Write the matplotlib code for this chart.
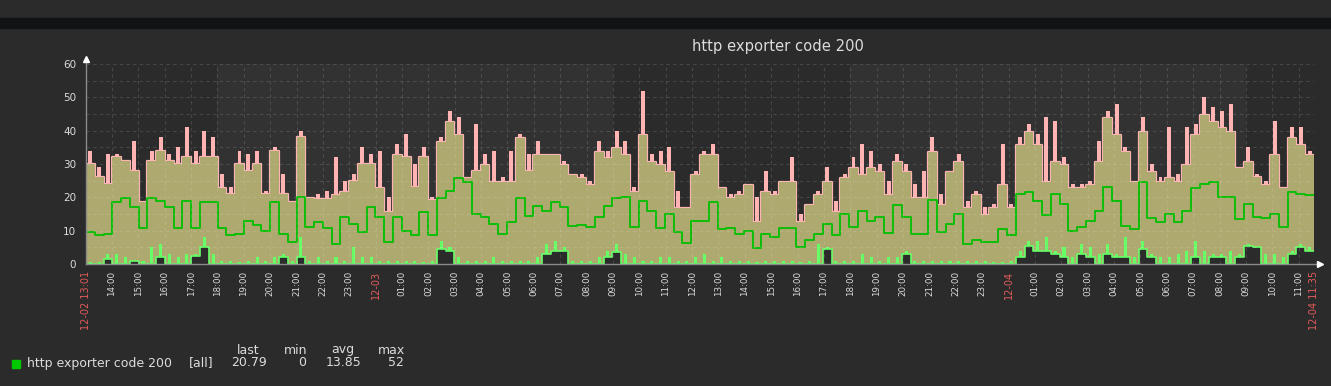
import matplotlib
matplotlib.use("Agg")
import matplotlib.pyplot as plt
import matplotlib.transforms as mtransforms
from matplotlib.patches import Rectangle
import numpy as np

# 20-minute samples from 12-02 13:01 to 12-04 11:35
peak = [34, 29, 33, 33, 31, 37, 19, 34, 38, 33, 35, 41, 34, 40, 38, 27, 23, 34, 33, 34, 22, 35, 27,
        19, 40, 20, 21, 22, 32, 25, 27, 35, 33, 34, 20, 36, 39, 30, 35, 20, 38, 46, 44, 26, 42, 33,
        34, 26, 34, 39, 33, 37, 33, 33, 31, 27, 27, 25, 37, 34, 40, 37, 23, 52, 33, 34, 35, 22, 17, 28,
        34, 36, 23, 21, 22, 24, 20, 28, 22, 25, 32, 15, 18, 22, 29, 19, 27, 32, 36, 34, 30, 25, 33,
        30, 24, 28, 38, 21, 28, 33, 19, 22, 17, 18, 36, 18, 38, 42, 39, 44, 43, 32, 24, 24, 25, 37,
        46, 48, 35, 25, 44, 30, 26, 41, 27, 41, 42, 50, 47, 46, 48, 29, 35, 27, 25, 43, 23, 41, 41, 34]
upper = [30, 26, 24, 32, 31, 28, 18.5, 31, 34, 31, 30, 32, 30, 32, 32, 22.7, 21, 30, 28, 30, 21, 34, 21,
         18.5, 38, 19.7, 19.5, 19.5, 20.7, 21.7, 25, 30, 30, 22.7, 15.7, 32.7, 32, 23, 32, 19.2, 36.7, 42.7, 38.7, 25.7, 28, 29.7,
         24.7, 24.7, 24.7, 37.7, 28, 32.7, 32.7, 32.7, 29.7, 26.7, 25.7, 23.7, 33.7, 31.7, 34.7, 32.7, 21.7, 38.7, 30.7, 29.7, 27.7, 16.7, 16.7, 26.7,
         32.7, 32.7, 22.7, 19.7, 20.7, 23.7, 12.7, 21.7, 20.7, 24.7, 24.7, 12.7, 17.7, 20.7, 24.7, 15.7, 25.7, 28.7, 26.7, 28.7, 27.7, 20.7, 30.7,
         27.7, 19.7, 19.7, 33.7, 17.7, 27.7, 30.7, 16.7, 20.7, 14.7, 16.7, 23.7, 16.7, 35.7, 39.7, 35.7, 24.7, 30.7, 29.7, 22.7, 22.7, 23.7, 30.7,
         43.7, 38.7, 33.7, 24.7, 39.7, 27.7, 24.7, 25.7, 24.7, 29.7, 38.7, 44.7, 42.7, 40.7, 39.7, 28.7, 30.7, 26, 23.7, 32.7, 22.7, 37.7, 35.7, 32.7]
avg = [9.7, 8.7, 9, 18.7, 19.7, 17, 10.7, 19.7, 19, 17, 10.7, 19, 10.7, 18.7, 18.7, 10.7, 8.7, 9, 13, 11.7, 10, 18.7, 9,
       6.7, 20, 11, 12.7, 10.7, 6, 14, 12, 9.7, 17, 14, 6.7, 14, 10, 8.7, 15.7, 8.7, 19.7, 22, 25.7, 24.7, 15, 14,
       12, 9, 12.7, 19.7, 14.5, 17.5, 16, 18.7, 17, 11.5, 11.7, 11, 14, 17.5, 19.7, 20, 11, 19, 16, 10.7, 15, 9.7, 6.2, 13,
       13, 18.5, 10.5, 10.7, 9, 10, 4.7, 9, 8.2, 10.7, 10.7, 5.2, 7.2, 9, 12, 8.7, 15, 11, 16, 13, 14, 9.2, 17.7,
       14, 9, 9, 19.2, 9.7, 12, 15, 6, 7.2, 6.7, 6.7, 10.5, 8.7, 21, 21.5, 19, 14.7, 21, 18, 10, 11, 13, 16,
       23, 19, 11.5, 10.5, 24.5, 13.7, 12.7, 15, 12.7, 16, 22.7, 24, 24.7, 20, 20, 13.5, 18, 14, 13.7, 15, 11, 21.5, 21, 20.79]
low = [0.5, 0.5, 3, 3, 2, 1, 1, 5, 6, 3, 2, 3, 3, 8, 3, 1, 1, 0.5, 1, 2, 1, 2, 3,
       1, 8, 1, 2, 1, 2, 1, 5, 2, 2, 1, 1, 1, 1, 1, 0.5, 1, 7, 5, 2, 1, 1, 1,
       2, 1, 1, 1, 1, 2, 6, 7, 5, 1, 1, 1, 2, 4, 6, 3, 2, 1, 1, 2, 2, 1, 1, 2,
       3, 1, 2, 1, 1, 1, 0.5, 1, 1, 1, 1, 0.5, 1, 6, 5, 1, 1, 1, 3, 2, 1, 2, 2,
       4, 1, 1, 1, 1, 1, 1, 1, 1, 1, 0.5, 0.5, 1, 4, 7, 7, 8, 4, 5, 2, 6, 5, 3,
       6, 3, 8, 2, 7, 3, 2, 2, 3, 4, 7, 4, 3, 3, 4, 3, 6, 5, 3, 3, 2, 4, 6, 5]
dark = [0, 0, 1.5, 0, 0, 1, 0, 0, 2, 0, 0, 0, 2.5, 5, 0, 0, 0, 0, 0, 0, 0, 0, 2,
        0, 2, 0, 0, 0, 0, 0, 0, 0, 0, 0, 0, 0, 0, 0, 0, 0, 4.5, 4, 0, 0, 0, 0,
        0, 0, 0, 0, 0, 0, 3, 4, 4, 0, 0, 0, 0, 2, 3.5, 0, 0, 0, 0, 0, 0, 0, 0, 0,
        0, 0, 0, 0, 0, 0, 0, 0, 0, 0, 0, 0, 0, 0, 4.5, 0, 0, 0, 0, 0, 0, 0, 0,
        3, 0, 0, 0, 0, 0, 0, 0, 0, 0, 0, 0, 0, 2, 5.5, 4, 4, 3, 2, 0, 3, 2, 0,
        3, 2, 2, 0, 4.5, 2, 0, 0, 0, 0, 2, 0, 2, 2, 0, 2, 5.5, 5, 0, 0, 0, 3, 5, 4]

t_end = 46 + 34 / 60.0          # hours from 12-02 13:01 to 12-04 11:35
first_hour = 59 / 60.0           # 14:00
n_hours = 46
night_bands = [(first_hour + 4, first_hour + 19), (first_hour + 28, first_hour + 43)]
date_labels = {10: "12-03", 34: "12-04"}

BG = "#2b2b2b"
TXT = "#dcdcdc"
RED = "#e25c5c"
PINK = "#ffb3b3"
OLIVE = "#aea96f"
LGREEN = "#66ff66"

W, H = 1331, 386
fig = plt.figure(figsize=(W / 100, H / 100), dpi=100, facecolor=BG)
fig.patches.append(Rectangle((0, 1 - 28 / H), 1, 10 / H, transform=fig.transFigure,
                             color="#121315", zorder=0))

ax = fig.add_axes([86 / W, (H - 264) / H, (1314 - 86) / W, 200 / H])
ax.set_facecolor(BG)
ax.set_xlim(0, t_end)
ax.set_ylim(0, 60)
for s in ax.spines.values():
    s.set_visible(False)

for a, b in night_bands:
    ax.axvspan(a, b, color="#323232", lw=0, zorder=0)

n = len(peak)
edges = np.linspace(0, t_end, n + 1)
centers = (edges[:-1] + edges[1:]) / 2
dt = edges[1] - edges[0]


def ext(v):
    return np.append(v, v[-1])


# max spikes, thin rim and the min..max band
ax.bar(centers, peak, width=dt * 0.45, color=PINK, lw=0, zorder=2)
ax.step(edges, ext(upper), where="post", color=PINK, lw=1.6, zorder=2)
ax.fill_between(edges, ext(upper), step="post", color=OLIVE, lw=0, zorder=3)
# min line
ax.bar(centers, low, width=dt * 0.35, color=LGREEN, lw=0, zorder=4)
ax.fill_between(edges, ext(dark), step="post", color=BG, lw=0, zorder=5)
ax.step(edges, ext(dark), where="post", color=LGREEN, lw=1.2, zorder=5)
# avg line
ax.step(edges, ext(avg), where="post", color="#00c000", lw=1.3, zorder=6)

# grid
for y in range(5, 61, 5):
    ax.axhline(y, color="white", alpha=0.13, lw=0.8, ls=(0, (3, 3)), zorder=7)
for j in range(n_hours):
    ax.axvline(first_hour + j, color="white", alpha=0.13, lw=0.8, ls=(0, (3, 3)), zorder=7)
ax.axvline(t_end, color="white", alpha=0.13, lw=0.8, ls=(0, (3, 3)), zorder=7)

# axes with arrows
ax.plot([0, 0], [0, 60.5], color="#8a8a8a", lw=1, clip_on=False, zorder=8)
ax.plot([0, t_end + 0.15], [0, 0], color="#8a8a8a", lw=1, clip_on=False, zorder=8)
ax.plot([0], [61.6], marker="^", color="white", ms=4, clip_on=False, zorder=9)
ax.plot([t_end + 0.22], [0], marker=">", color="white", ms=4, clip_on=False, zorder=9)

ax.set_xticks([])
ax.set_yticks(range(0, 61, 10))
ax.tick_params(axis="y", length=0, pad=7, labelsize=7.5, labelcolor=TXT)

# x labels
trans = mtransforms.blended_transform_factory(ax.transData, ax.transAxes)
for j in range(n_hours):
    hour = (14 + j) % 24
    if j in date_labels:
        lab, col, fs = date_labels[j], RED, 7
    else:
        lab, col, fs = f"{hour:02d}:00", TXT, 6.3
    ax.text(first_hour + j, -0.035, lab, transform=trans, rotation=90,
            ha="center", va="top", fontsize=fs, color=col)
ax.text(0, -0.035, "12-02 13:01", transform=trans, rotation=90, ha="center", va="top",
        fontsize=7, color=RED)
ax.text(t_end, -0.035, "12-04 11:35", transform=trans, rotation=90, ha="center", va="top",
        fontsize=7, color=RED)

fig.text(778 / W, 1 - 46 / H, "http exporter code 200", ha="center", va="center",
         fontsize=10.6, color=TXT)

# legend
fig.patches.append(Rectangle((12 / W, 1 - 368 / H), 8 / W, 8 / H, transform=fig.transFigure,
                             color="#00c800"))
fig.text(27 / W, 1 - 363 / H, "http exporter code 200", ha="left", va="center",
         fontsize=9, color=TXT)
fig.text(213 / W, 1 - 363 / H, "[all]", ha="right", va="center", fontsize=9, color=TXT)
stats = ["last", "min", "avg", "max"]
stat_vals = ["20.79", "0", "13.85", "52"]
stat_right = [267, 306, 361, 404]
head_center = [248, 296, 343, 391.5]
for name, val, xr, xc in zip(stats, stat_vals, stat_right, head_center):
    fig.text(xc / W, 1 - 350 / H, name, ha="center", va="center", fontsize=9, color=TXT)
    fig.text(xr / W, 1 - 363 / H, val, ha="right", va="center", fontsize=9, color=TXT)

fig.savefig("out.png", dpi=100, facecolor=BG)
